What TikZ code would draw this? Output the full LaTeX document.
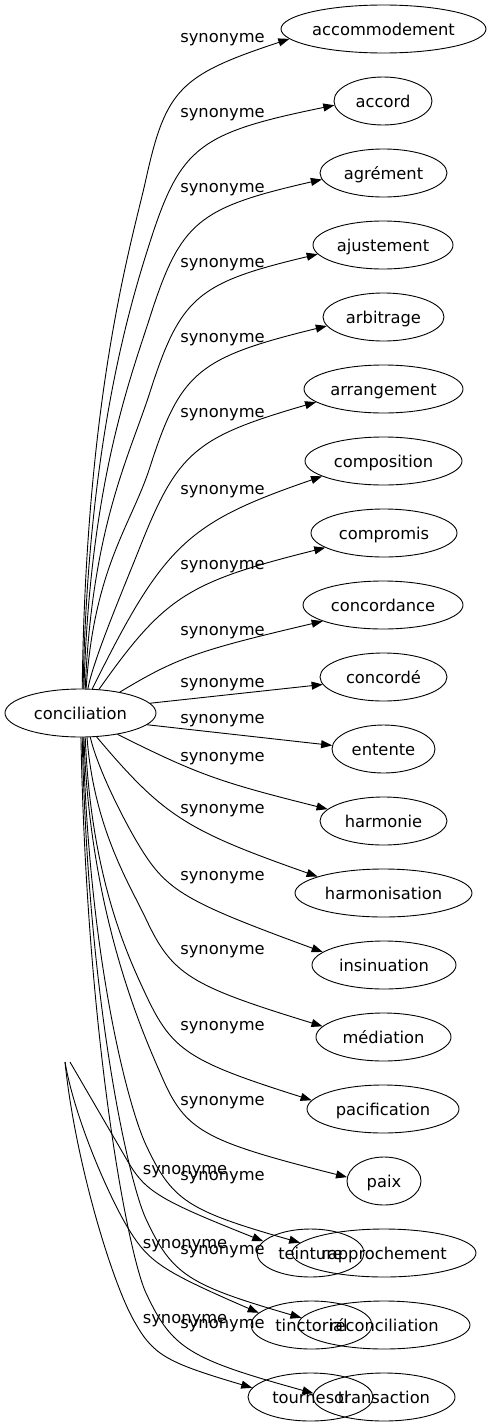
\documentclass[tikz,border=0pt]{standalone}
\usepackage{fontspec}
\setmainfont{DejaVu Sans}
\usetikzlibrary{shapes.geometric,arrows.meta,calc}
\newcommand{\ztxt}[1]{\makebox[0pt]{\raisebox{-6pt}[0pt][0pt]{#1}}}
% bent connector: start, C1, C2, bend start B, corner K, end
\newcommand{\bendedge}[6]{%
  \draw[edge] (#1) .. controls (#2) and (#3) .. (#4)
    .. controls ($(#4)!0.9!(#5)$) and ($(#6)!0.9!(#5)$) .. (#6);}
% one-piece connector: start, corner K, end
\newcommand{\cornedge}[3]{%
  \draw[edge] (#1) .. controls ($(#1)!0.9!(#2)$) and ($(#3)!0.9!(#2)$) .. (#3);}
\begin{document}
\begin{tikzpicture}[x=1pt,y=-1pt,
  every node/.style={font=\fontsize{16.3}{19}\selectfont},
  tgt/.style={ellipse,draw,line width=0.9pt,minimum height=48pt,inner sep=0pt},
  lab/.style={anchor=base,inner sep=0pt},
  edge/.style={line width=0.9pt,-{Triangle[length=11pt,width=8pt]}}]
\useasboundingbox (0,0) rectangle (492,1427);
% nodes
\node[tgt,minimum width=151pt] (conc) at (80.5,713) {\ztxt{conciliation}};
\node[tgt,minimum width=205pt] (acc) at (383.5,29) {\ztxt{accommodement}};
\node[tgt,minimum width=98pt] (accord) at (383,101) {\ztxt{accord}};
\node[tgt,minimum width=127pt] (agr) at (383.5,173) {\ztxt{agrément}};
\node[tgt,minimum width=140pt] (aju) at (383,245) {\ztxt{ajustement}};
\node[tgt,minimum width=121pt] (arb) at (383.5,317) {\ztxt{arbitrage}};
\node[tgt,minimum width=159pt] (arr) at (383.5,389) {\ztxt{arrangement}};
\node[tgt,minimum width=157pt] (compo) at (383.5,461) {\ztxt{composition}};
\node[tgt,minimum width=146pt] (compro) at (384,533) {\ztxt{compromis}};
\node[tgt,minimum width=160pt] (concordance) at (383,605) {\ztxt{concordance}};
\node[tgt,minimum width=127pt] (concorde) at (383.5,677) {\ztxt{concordé}};
\node[tgt,minimum width=103pt] (ent) at (383.5,749) {\ztxt{entente}};
\node[tgt,minimum width=127pt] (harmonie) at (383.5,821) {\ztxt{harmonie}};
\node[tgt,minimum width=177pt] (harmonisation) at (383.5,893) {\ztxt{harmonisation}};
\node[tgt,minimum width=144pt] (insin) at (384,965) {\ztxt{insinuation}};
\node[tgt,minimum width=135pt] (med) at (383.5,1037) {\ztxt{médiation}};
\node[tgt,minimum width=152pt] (pacif) at (383,1109) {\ztxt{pacification}};
\node[tgt,minimum width=74pt] (paix) at (384,1181) {\ztxt{paix}};
\node[tgt,minimum width=184pt] (rappro) at (384,1253) {\ztxt{rapprochement}};
\node[tgt,minimum width=172pt] (recon) at (384,1325) {\ztxt{réconciliation}};
\node[tgt,minimum width=142pt] (trans) at (384,1397) {\ztxt{transaction}};
\node[tgt,minimum width=107pt] (teint) at (310.5,1253) {\ztxt{teinture}};
\node[tgt,minimum width=121pt] (tinct) at (311.5,1325) {\ztxt{tinctorial}};
\node[tgt,minimum width=125pt] (tourn) at (310.5,1397) {\ztxt{tournesol}};
\coordinate (srcA) at (65,1062);
\coordinate (srcB) at (70,1062);
% edges going up
\bendedge{conc.86}{86,389}{132.8,239}{146,179}{168,79}{acc.186}
\bendedge{conc.84}{88,443}{129.6,305.6}{150,242}{184,136}{accord.185}
\bendedge{conc.82}{90,484}{129.6,380.6}{150,317}{184,211}{agr.186}
\bendedge{conc.79}{92,526}{129.6,455.6}{150,392}{184,286}{aju.188}
\bendedge{conc.77}{94,567}{131.6,524.4}{150,467}{184,361}{arb.189}
\bendedge{conc.73}{93,660}{125.3,584.1}{140,547}{182,441}{arr.191}
\cornedge{conc.64}{172,528}{compo.194}
\cornedge{conc.52}{172,586}{compro.194}
\cornedge{conc.28}{183,654}{concordance.195}
\draw[edge] (conc.8) -- (concorde.187);
% edges going down
\draw[edge] (conc.-10) -- (ent.176);
\cornedge{conc.-30}{207,779}{harmonie.168}
\cornedge{conc.-56}{171,825}{harmonisation.166}
\bendedge{conc.-68}{98,770}{125,822.5}{140,847}{170,896}{insin.168}
\bendedge{conc.-75}{94,830}{131.5,887.6}{146,919}{175,981}{med.170}
\bendedge{conc.-79}{91,879}{128.6,957.8}{146,995}{175,1057}{pacif.173}
\bendedge{conc.-82}{90,920}{146.4,1041}{162,1077}{188,1137}{paix.174}
\bendedge{conc.-84}{89,961}{128.6,1107.8}{146,1145}{175,1207}{rappro.173}
\bendedge{conc.-86}{88,1002}{128.6,1181.8}{146,1219}{175,1281}{recon.175}
\bendedge{conc.-89}{87,1043}{128.6,1255.8}{146,1293}{175,1355}{trans.177}
% edges from the cut-off source
\bendedge{srcB}{89,1094.7}{108,1127.3}{127,1160}{147,1195}{teint.166}
\bendedge{srcA}{75,1120}{109.6,1197.6}{128,1228}{151,1266}{tinct.167}
\bendedge{srcA}{75,1160}{111,1279}{133,1319}{155,1359}{tourn.171}
% labels
\foreach \y [count=\i] in {37,112,187,262,337,412,489,564,630,682,718,756,808,875,949,1025,1100,1175,1249,1323}
  \node[lab] (l\i) at (222.5,\y+5.5) {synonyme};
\foreach \y [count=\i] in {1169,1243,1318}
  \node[lab] (m\i) at (185,\y+5.5) {synonyme};
\end{tikzpicture}
\end{document}
